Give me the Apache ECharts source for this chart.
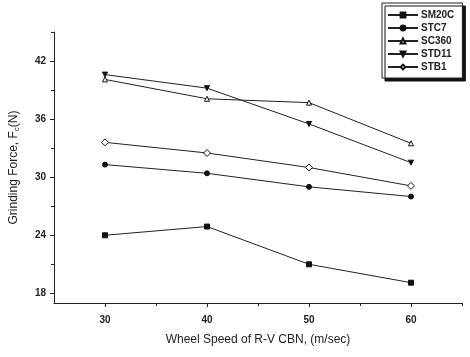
<!DOCTYPE html>
<html>
<head>
<meta charset="utf-8">
<script src="https://cdn.jsdelivr.net/npm/echarts@6/dist/echarts.min.js"></script>
<style>
  html, body { margin: 0; padding: 0; background: #fff; }
  #chart { width: 470px; height: 357px; }
</style>
</head>
<body>
<div id="chart"></div>
<script>
// wheel speed (m/sec)
var speeds = [30, 40, 50, 60];
// grinding force per wheel
var sm20c = [24.0, 24.9, 21.0, 19.1];
var stc7 = [31.3, 30.4, 29.0, 28.0];
var sc360 = [40.1, 38.1, 37.7, 33.5];
var std11 = [40.6, 39.2, 35.5, 31.5];
var stb1 = [33.6, 32.5, 31.0, 29.1];

var yMajor = [18, 24, 30, 36, 42];
var yMinor = [21, 27, 33, 39, 45];
var xMajor = [30, 40, 50, 60];
var xMinor = [35, 45, 55, 65];

var chart = echarts.init(document.getElementById('chart'));

var pairs = function (ys) {
  return speeds.map(function (x, i) { return [x, ys[i]]; });
};

var lineCol = '#222';
var mkSeries = function (name, data, symbol, filled) {
  return {
    name: name,
    type: 'line',
    xAxisIndex: 0,
    yAxisIndex: 0,
    data: pairs(data),
    symbol: symbol,
    symbolSize: symbol == 'diamond' ? 7 : 5,
    symbolRotate: name == 'STD11' ? 180 : 0,
    showAllSymbol: true,
    lineStyle: { color: lineCol, width: 1 },
    itemStyle: {
      color: filled ? '#111' : '#fff',
      borderColor: '#111',
      borderWidth: 1
    },
    emphasis: { disabled: true },
    animation: false
  };
};

var axisCommon = {
  axisLine: { show: true, lineStyle: { color: '#222', width: 1 } },
  splitLine: { show: false }
};

var option = {
  backgroundColor: '#fff',
  grid: { left: 53, top: 32, right: 8, bottom: 54 },
  legend: {
    orient: 'vertical',
    left: 382,
    top: 3,
    padding: [7, 8, 6, 5],
    itemWidth: 30,
    itemHeight: 6,
    itemGap: 3,
    backgroundColor: '#fff',
    borderColor: '#222',
    borderWidth: 1,
    borderRadius: 0,
    shadowColor: '#111',
    shadowBlur: 0,
    shadowOffsetX: 3,
    shadowOffsetY: 3,
    textStyle: { fontFamily: 'Liberation Sans', fontSize: 10, fontWeight: 'bold', color: '#222', padding: [0, 0, 0, -2] },
    data: ['SM20C', 'STC7', 'SC360', 'STD11', 'STB1']
  },
  xAxis: [
    Object.assign({}, axisCommon, {
      type: 'value', min: 25, max: 65,
      name: 'Wheel Speed of R-V CBN, (m/sec)',
      nameLocation: 'middle', nameGap: 31,
      nameTextStyle: { fontFamily: 'Liberation Sans', fontSize: 12, color: '#222' },
      axisTick: { show: true, length: 4, customValues: xMajor, lineStyle: { color: '#222' } },
      axisLabel: { customValues: xMajor, fontFamily: 'Liberation Sans', fontSize: 10, fontWeight: 'bold', color: '#222', margin: 12 }
    }),
    {
      type: 'value', min: 25, max: 65, position: 'bottom',
      axisLine: { show: false }, splitLine: { show: false },
      axisTick: { show: true, length: 3, customValues: xMinor, lineStyle: { color: '#222' } },
      axisLabel: { show: false }
    }
  ],
  yAxis: [
    Object.assign({}, axisCommon, {
      type: 'value', min: 17, max: 45,
      name: '{a|Grinding Force, F}{s|c}{a|(N)}',
      nameLocation: 'middle', nameGap: 33,
      nameTextStyle: {
        rich: {
          a: { fontFamily: 'Liberation Sans', fontSize: 12, color: '#222' },
          s: { fontFamily: 'Liberation Sans', fontSize: 8, color: '#222', verticalAlign: 'bottom', padding: [6, 0, 0, 0] }
        }
      },
      axisTick: { show: true, length: 4, customValues: yMajor, lineStyle: { color: '#222' } },
      axisLabel: { customValues: yMajor, fontFamily: 'Liberation Sans', fontSize: 10, fontWeight: 'bold', color: '#222', margin: 8 }
    }),
    {
      type: 'value', min: 17, max: 45, position: 'left',
      axisLine: { show: false }, splitLine: { show: false },
      axisTick: { show: true, length: 3, customValues: yMinor, lineStyle: { color: '#222' } },
      axisLabel: { show: false }
    }
  ],
  series: [
    mkSeries('SM20C', sm20c, 'rect', true),
    mkSeries('STC7', stc7, 'circle', true),
    mkSeries('SC360', sc360, 'triangle', false),
    mkSeries('STD11', std11, 'triangle', true),
    mkSeries('STB1', stb1, 'diamond', false)
  ]
};

chart.setOption(option);
</script>
</body>
</html>
